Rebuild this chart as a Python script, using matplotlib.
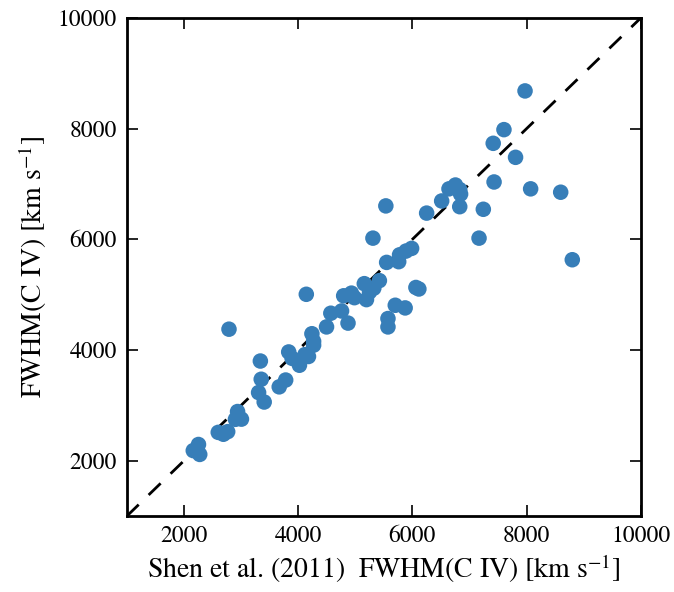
import matplotlib
matplotlib.use('Agg')
import matplotlib.pyplot as plt
import numpy as np

# Shen et al. (2011) FWHM(C IV) vs our FWHM(C IV), km/s
shen_fwhm = [2165, 2256, 2278, 2602, 2692, 2767, 2790, 2940, 2903, 3008,
             3308, 3339, 3354, 3406, 3669, 3782, 3835, 3895, 4023, 4120,
             4181, 4143, 4241, 4271, 4271, 4497, 4572, 4760, 4797, 4873,
             4933, 4985, 5158, 5196, 5249, 5309, 5324, 5422, 5535, 5549,
             5572, 5572, 5700, 5760, 5775, 5888, 5986, 5873, 6061, 6113,
             6249, 6512, 6640, 6753, 6828, 6843, 6828, 7166, 7241, 7414,
             7429, 7602, 7805, 7971, 8069, 8595, 8798]
our_fwhm = [2185, 2295, 2116, 2514, 2480, 2527, 4377, 2890, 2750, 2753,
            3233, 3802, 3473, 3062, 3336, 3459, 3966, 3850, 3726, 3918,
            3884, 5007, 4295, 4158, 4089, 4418, 4665, 4706, 4980, 4487,
            5028, 4946, 5199, 4911, 5048, 6021, 5117, 5254, 6603, 5583,
            4569, 4418, 4809, 5596, 5720, 5788, 5836, 4761, 5130, 5103,
            6473, 6692, 6911, 6980, 6898, 6816, 6589, 6021, 6542, 7733,
            7035, 7980, 7480, 8679, 6911, 6850, 5631]

ticks = [2000, 4000, 6000, 8000, 10000]
lims = [1000, 10000]

plt.rcParams['font.family'] = ['STIXGeneral', 'DejaVu Serif']
plt.rcParams['mathtext.fontset'] = 'stix'

fig = plt.figure(figsize=(6.74, 5.92), dpi=100)
ax = fig.add_axes([0.188, 0.128, 0.763, 0.842])

ax.plot(lims, lims, 'k--', lw=2, dashes=(6, 5), zorder=1)
ax.scatter(shen_fwhm, our_fwhm, s=125, color='#377eb8', edgecolors='none', zorder=2)

ax.set_xlim(lims)
ax.set_ylim(lims)
ax.set_xticks(ticks)
ax.set_yticks(ticks)
ax.tick_params(direction='in', top=True, right=True, length=8, width=1.2,
               labelsize=17, pad=7)
for sp in ax.spines.values():
    sp.set_linewidth(2)

ax.set_xlabel(r'Shen et al. (2011)  FWHM(C IV) [km s$^{-1}$]', fontsize=20, labelpad=4)
ax.set_ylabel(r'FWHM(C IV) [km s$^{-1}$]', fontsize=20, labelpad=6)

fig.savefig('out.png', dpi=100)
